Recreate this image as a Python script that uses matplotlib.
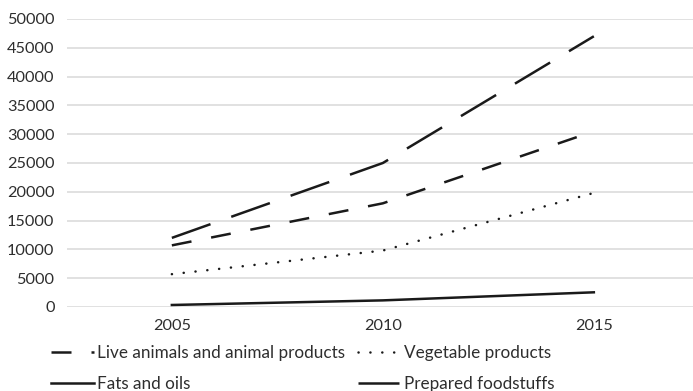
import matplotlib.pyplot as plt
from matplotlib.lines import Line2D

# export values by product group (thousand USD)
years = ["2005", "2010", "2015"]
live_animals = [10700, 18000, 30500]
vegetable = [5700, 9800, 19800]
fats_oils = [350, 1150, 2550]
prepared = [12000, 25000, 47000]

plt.rcParams['font.family'] = ['Lato', 'DejaVu Sans']
ink = "#1a1a1a"
txt = "#2e2e2e"

fig = plt.figure(figsize=(6.93, 3.91), dpi=100)
ax = fig.add_axes([67/693, 1 - 307/391, 1 - 67/693, (307 - 19)/391])

x = range(len(years))
lw = 1.8
l1, = ax.plot(x, live_animals, color=ink, lw=lw, dashes=(8, 8), dash_capstyle="butt",
              label="Live animals and animal products")
l2, = ax.plot(x, vegetable, color=ink, lw=lw, dashes=(0.05, 4.7), dash_capstyle="round",
              label="Vegetable products")
l3, = ax.plot(x, fats_oils, color=ink, lw=lw, label="Fats and oils")
l4, = ax.plot(x, prepared, color=ink, lw=lw, dashes=(16.4, 8.8), dash_capstyle="butt",
              label="Prepared foodstuffs")

ax.set_xlim(-0.497, 2.47)
ax.set_ylim(0, 50000)
ax.set_yticks(range(0, 50001, 5000))
ax.set_xticks(list(x))
ax.set_xticklabels(years)
ax.grid(axis="y", color="#d9d9d9", lw=1.1)
ax.set_axisbelow(True)
for s in ax.spines.values():
    s.set_visible(False)
ax.tick_params(length=0, labelsize=11.7, labelcolor=txt)
ax.tick_params(axis="y", pad=9)
ax.tick_params(axis="x", pad=9)

# legend laid out as two rows of two entries
fig.legend([l1, l3, l2, l4], [l1.get_label(), l3.get_label(), l2.get_label(), l4.get_label()],
           ncol=2, loc="upper left", bbox_to_anchor=(51/693, 1 - 345/391),
           frameon=False, fontsize=12.3, labelcolor=txt, handlelength=2.5,
           handletextpad=0.2, columnspacing=0.75, labelspacing=0.85,
           borderaxespad=0, borderpad=0)

fig.savefig("out.png", dpi=100)
